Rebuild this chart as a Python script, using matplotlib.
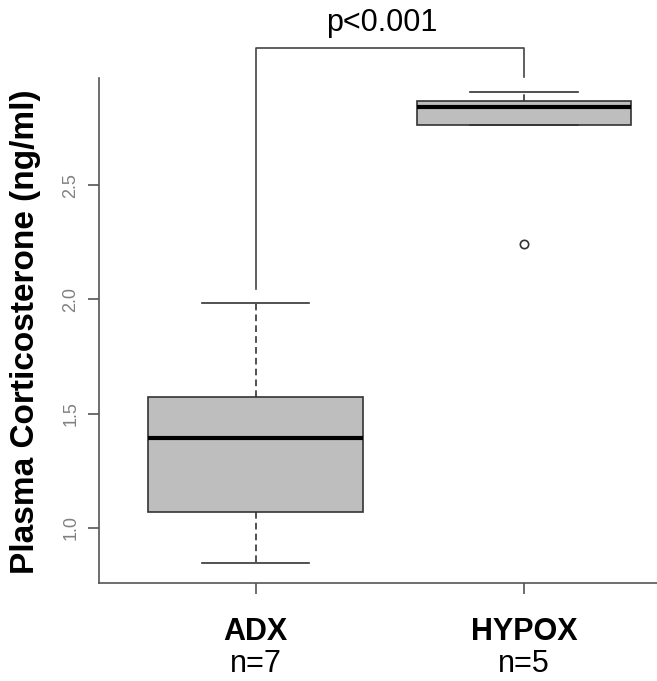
import matplotlib
matplotlib.use("Agg")
import matplotlib.pyplot as plt
from matplotlib.transforms import blended_transform_factory

plt.rcParams['font.family'] = ['Liberation Sans', 'DejaVu Sans']

groups = ["ADX", "HYPOX"]
counts = ["n=7", "n=5"]
medians = [1.394, 2.843]
q1 = [1.067, 2.762]
q3 = [1.572, 2.869]
whis_lo = [0.847, 2.762]
whis_hi = [1.983, 2.909]
fliers = [[], [2.243]]
yticks = [1.0, 1.5, 2.0, 2.5]
p_text = "p<0.001"
bracket_y = [2.044, 3.10, 2.975]  # left leg bottom, top, right leg bottom

fig = plt.figure(figsize=(6.57, 6.81), dpi=100)
ax = fig.add_axes([99/657, 1 - 583/681, 1 - 99/657, (583 - 78)/681])

stats = []
for i in range(len(groups)):
    stats.append(dict(med=medians[i], q1=q1[i], q3=q3[i],
                      whislo=whis_lo[i], whishi=whis_hi[i],
                      fliers=fliers[i], label=groups[i]))

edge = "#333333"
ax.bxp(stats, positions=[1, 2], widths=0.8, patch_artist=True,
       boxprops=dict(facecolor="#BEBEBE", edgecolor=edge, linewidth=1.2),
       medianprops=dict(color="black", linewidth=3),
       whiskerprops=dict(color=edge, linewidth=1.2, linestyle=(0, (4, 2.5))),
       capprops=dict(color=edge, linewidth=1.2),
       capwidths=0.4,
       flierprops=dict(marker="o", markersize=6, markerfacecolor="white",
                       markeredgecolor=edge, markeredgewidth=1.2))

ax.set_xlim(0.416, 2.496)
ax.set_ylim(0.758, 2.969)

for s in ["top", "right"]:
    ax.spines[s].set_visible(False)
for s in ["left", "bottom"]:
    ax.spines[s].set_color("#555555")
    ax.spines[s].set_linewidth(1.2)

ax.set_yticks(yticks)
ax.set_yticklabels([f"{v:.1f}" for v in yticks], rotation=90, va="center",
                   color="#808080", fontsize=13)
ax.tick_params(axis="y", length=8, color="#555555", width=1.2, pad=6)
ax.set_xticks([1, 2])
ax.set_xticklabels([])
ax.tick_params(axis="x", length=8, color="#555555", width=1.2)

tr = blended_transform_factory(ax.transData, fig.transFigure)
for i, (g, n) in enumerate(zip(groups, counts)):
    ax.text(i + 1, 1 - 632/681, g, transform=tr,
            ha="center", va="center", fontsize=22, fontweight="bold")
    ax.text(i + 1, 1 - 664/681, n, transform=tr,
            ha="center", va="center", fontsize=22)

fig.text(26/657, 1 - 332/681, "Plasma Corticosterone (ng/ml)", rotation=90,
         ha="center", va="center", fontsize=24, fontweight="bold")

ax.plot([1, 1, 2, 2], [bracket_y[0], bracket_y[1], bracket_y[1], bracket_y[2]],
        color="#444444", linewidth=1.2, clip_on=False)
ax.text(1.47, 3.21, p_text, ha="center", va="center", fontsize=22)

fig.savefig("out.png", dpi=100)
